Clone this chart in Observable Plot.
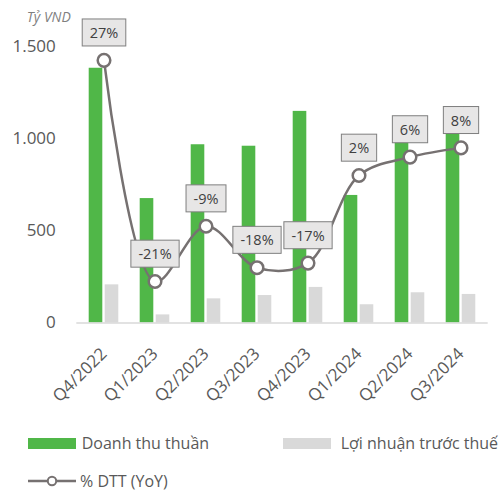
<!DOCTYPE html>
<html>
<head>
<meta charset="utf-8">
<script src="https://cdn.jsdelivr.net/npm/d3@7"></script>
<script src="https://cdn.jsdelivr.net/npm/@observablehq/plot@0.6"></script>
<style>
  body { margin: 0; background: #fff; font-family: "Open Sans", sans-serif; }
  #wrap { position: relative; width: 501px; height: 491px; overflow: hidden; background: #fff; }
  #chart { position: absolute; left: 0; top: 0; }
  .sw { position: absolute; height: 11px; width: 48px; }
  .lt { position: absolute; font-size: 16px; line-height: 16px; color: #595959; white-space: nowrap; }
  .ls { position: absolute; }
</style>
</head>
<body>
<div id="wrap">
  <div id="chart"></div>
  <div id="legend"></div>
</div>
<script>
// ---- data ----
const categories = ["Q4/2022", "Q1/2023", "Q2/2023", "Q3/2023", "Q4/2023", "Q1/2024", "Q2/2024", "Q3/2024"];
const revenue = [1382, 675, 967, 959, 1148, 692, 1025, 1036];   // Doanh thu thuần (tỷ VND)
const profit = [207, 44, 131, 149, 193, 99, 164, 155];           // Lợi nhuận trước thuế (tỷ VND)
const yoy = [27, -21, -9, -18, -17, 2, 6, 8];                      // % DTT (YoY)
const yTicks = [0, 500, 1000, 1500];
const seriesNames = ["Doanh thu thuần", "Lợi nhuận trước thuế", "% DTT (YoY)"];
const unitLabel = "Tỷ VND";

// secondary (hidden) axis range for the % line
const yMax = 1500;
const yoyMin = -30, yoyMax = 30;

const green = "#50b748";
const gray = "#d9d9d9";
const lineColor = "#767171";

const data = categories.map((q, i) => ({
  q,
  revenue: revenue[i],
  profit: profit[i],
  yoy: yoy[i],
  yoyPos: (yoy[i] - yoyMin) / (yoyMax - yoyMin) * yMax,
  label: yoy[i] + "%"
}));

const fmt = d => d3.format(",")(d).replace(/,/g, ".");

const plot = Plot.plot({
  width: 501,
  height: 425,
  marginLeft: 76.3,
  marginRight: 13.3,
  marginTop: 46,
  marginBottom: 102.5,
  style: { fontFamily: "Open Sans", background: "#fff", overflow: "visible" },
  x: { domain: categories, padding: 0, align: 0.5, label: null },
  y: { domain: [0, yMax], label: null },
  marks: [
    Plot.barY(data, { x: "q", y: "revenue", fill: green, insetLeft: 10.7, insetRight: 26.7 }),
    Plot.barY(data, { x: "q", y: "profit", fill: gray, insetLeft: 26.7, insetRight: 10.7 }),
    Plot.ruleY([0], { stroke: "#d9d9d9", strokeWidth: 1.5 }),
    Plot.axisY({ ticks: yTicks, tickFormat: fmt, tickSize: 0, tickPadding: 21, fontSize: 17, fill: "#595959", label: null }),
    Plot.axisX({ tickSize: 0, tickRotate: -45, tickPadding: 28, fontSize: 17, fill: "#595959", label: null }),
    Plot.line(data, { x: "q", y: "yoyPos", curve: "catmull-rom", stroke: lineColor, strokeWidth: 2.5 }),
    Plot.dot(data, { x: "q", y: "yoyPos", r: 6.3, fill: "white", stroke: lineColor, strokeWidth: 2.5 }),
    Plot.text(data, { x: "q", y: "yoyPos", text: "label", dy: -27, fontSize: 14.5, fill: "#404040", className: "yoy-label" }),
    Plot.text([unitLabel], { frameAnchor: "top-left", dx: -6, dy: -34, textAnchor: "end", fontStyle: "italic", fontSize: 14, fill: "#7f7f7f" })
  ]
});

document.getElementById("chart").append(plot);

// boxes behind the % labels, sized from the rendered text
const svgNS = "http://www.w3.org/2000/svg";
const lg = plot.querySelector("g.yoy-label");
if (lg) {
  lg.querySelectorAll("text").forEach(t => {
    const b = t.getBBox();
    const r = document.createElementNS(svgNS, "rect");
    r.setAttribute("x", b.x - 7.5);
    r.setAttribute("width", b.width + 15);
    r.setAttribute("y", b.y + b.height / 2 - 13.5);
    r.setAttribute("height", 27);
    r.setAttribute("fill", "#e7e6e6");
    r.setAttribute("stroke", "#7f7f7f");
    r.setAttribute("stroke-width", 1);
    const tr = t.getAttribute("transform");
    if (tr) r.setAttribute("transform", tr);
    lg.insertBefore(r, t);
  });
}

// legend
const legend = document.getElementById("legend");
legend.innerHTML = `
  <div class="sw" style="left:28px;top:437.5px;background:${green}"></div>
  <div class="lt" style="left:81.7px;top:435px">${seriesNames[0]}</div>
  <div class="sw" style="left:283px;top:437.5px;background:${gray}"></div>
  <div class="lt" style="left:340.7px;top:435px">${seriesNames[1]}</div>
  <svg class="ls" style="left:28px;top:474px" width="48" height="14">
    <line x1="0" x2="48" y1="7" y2="7" stroke="${lineColor}" stroke-width="2.5"></line>
    <circle cx="24" cy="7" r="4.2" fill="white" stroke="${lineColor}" stroke-width="2"></circle>
  </svg>
  <div class="lt" style="left:80px;top:473px">${seriesNames[2]}</div>
`;
</script>
</body>
</html>
